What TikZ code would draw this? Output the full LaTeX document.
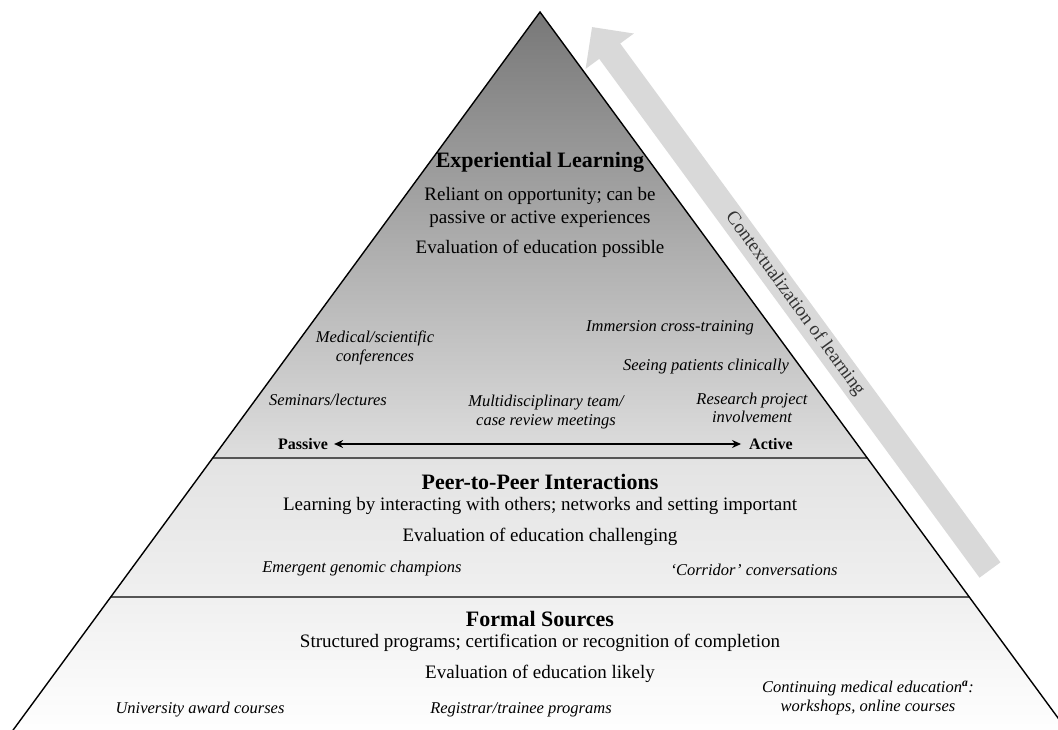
\documentclass[tikz,border=0pt]{standalone}
\usepackage{fontspec}
\setmainfont{Liberation Serif}
\usepackage{tikz}
\usetikzlibrary{arrows.meta,positioning}

\definecolor{bandgray}{HTML}{D9D9D9}
\definecolor{rulegray}{HTML}{555555}
\definecolor{textgray}{HTML}{333333}

\begin{document}
\begin{tikzpicture}[x=1pt,y=-1pt]
			\tikzstyle{Head}	= [inner sep=0pt, font=\fontsize{22}{26}\selectfont\bfseries]
			\tikzstyle{Body}	= [inner sep=0pt, align=center, font=\fontsize{19}{23}\selectfont]
			\tikzstyle{Item}	= [inner sep=0pt, align=center, font=\fontsize{16.5}{18.5}\selectfont\itshape]
			\tikzstyle{Pole}	= [inner sep=0pt, font=\fontsize{16}{18}\selectfont\bfseries]
			\tikzstyle{Rule}	= [rulegray, line width=1.2pt]
			\tikzstyle{Edge}	= [black, line width=1.4pt, line join=miter]
			\tikzstyle{Band}	= [bandgray, line width=26pt, -{Triangle[width=58pt,length=30pt]}]

			\useasboundingbox (0,0) rectangle (1058,730);
			\clip (0,0) rectangle (1058,730);

			\coordinate (apex) at (540,12);
			\coordinate (s1l) at (213,458);
			\coordinate (s1r) at (867,458);
			\coordinate (s2l) at (111,597);
			\coordinate (s2r) at (969,597);
			\coordinate (bl) at (8,737);
			\coordinate (br) at (1072,737);

			\shade [top color=black!53, bottom color=black!13] (apex) -- (s1r) -- (s1l) -- cycle;
			\shade [top color=black!11, bottom color=black!6] (s1l) -- (s1r) -- (s2r) -- (s2l) -- cycle;
			\shade [top color=black!6, bottom color=white] (s2l) -- (s2r) -- (br) -- (bl) -- cycle;

			\draw [Rule] (s1l) -- (s1r);
			\draw [Rule] (s2l) -- (s2r);
			\draw [Edge] (bl) -- (apex) -- (br);

			\coordinate (tail) at (990,570);
			\coordinate (tip) at (592,27);
			\draw [Band] (tail) -- (tip);
			\path (tip) -- (tail) node [pos=0.51, sloped, textgray, inner sep=0pt, font=\fontsize{19}{23}\selectfont] (ctx) {Contextualization of learning};

			\node (el) at (540,162) [Head] {Experiential Learning};
			\node (el1) at (540,207) [Body] {Reliant on opportunity; can be\\passive or active experiences};
			\node (el2) at (540,249) [Body] {Evaluation of education possible};

			\node (msc) at (375,348) [Item] {Medical/scientific\\conferences};
			\node (ict) at (670,328) [Item] {Immersion cross-training};
			\node (spc) at (706,367) [Item] {Seeing patients clinically};
			\node (sem) at (328,400) [Item] {Seminars/lectures};
			\node (mdt) at (546,412) [Item] {Multidisciplinary team/\\case review meetings};
			\node (rpi) at (752,408) [Item] {Research project\\involvement};

			\node (pas) at (303,444) [Pole] {Passive};
			\node (act) at (771,444) [Pole] {Active};
			\draw [{Stealth[length=9pt,width=8pt]}-{Stealth[length=9pt,width=8pt]}, line width=1.2pt] (pas) -- (act) [shorten <=6pt, shorten >=8pt];

			\node (pp) at (540,482) [Head] {Peer-to-Peer Interactions};
			\node (pp1) at (540,506) [Body] {Learning by interacting with others; networks and setting important};
			\node (pp2) at (540,537) [Body] {Evaluation of education challenging};
			\node (egc) at (362,569) [Item] {Emergent genomic champions};
			\node (cor) at (754,570) [Item] {`Corridor' conversations};

			\node (fs) at (540,619) [Head] {Formal Sources};
			\node (fs1) at (540,643) [Body] {Structured programs; certification or recognition of completion};
			\node (fs2) at (540,674) [Body] {Evaluation of education likely};
			\node (uac) at (200,710) [Item] {University award courses};
			\node (rtp) at (521,710) [Item] {Registrar/trainee programs};
			\node (cme) at (868,698) [Item] {Continuing medical education\textsuperscript{\bfseries a}:\\workshops, online courses};
\end{tikzpicture}
\end{document}
